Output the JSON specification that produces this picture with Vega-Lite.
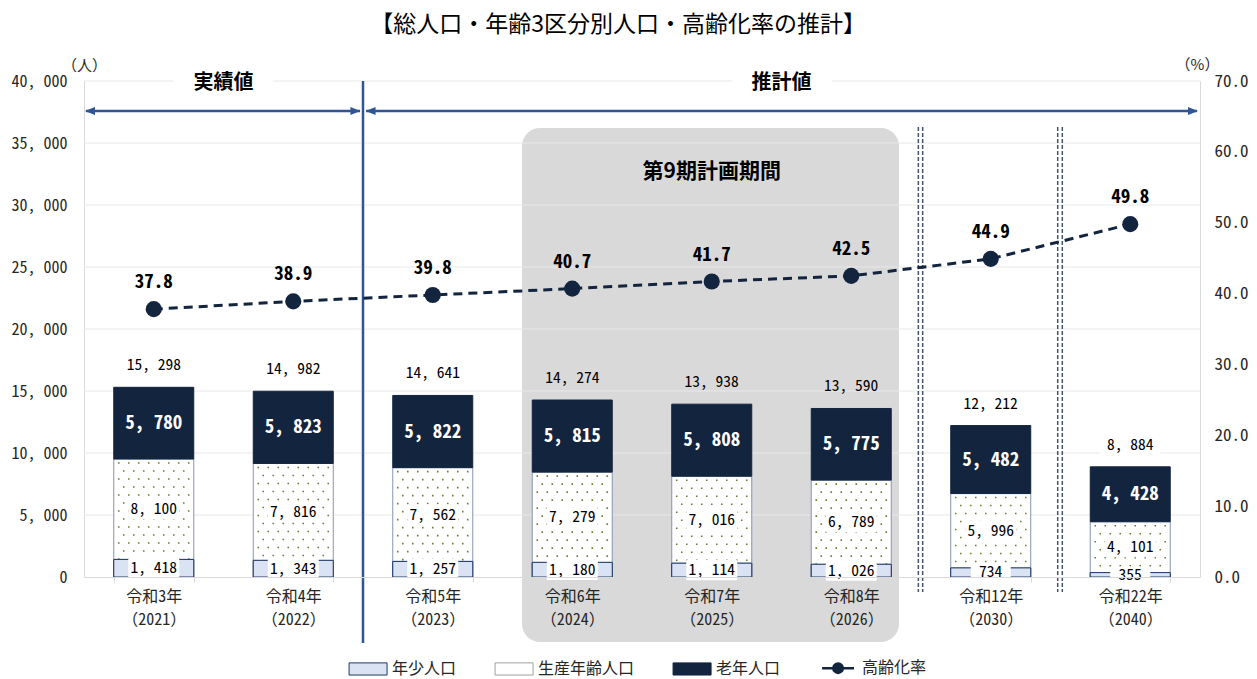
{
  "$schema": "https://vega.github.io/schema/vega-lite/v6.json",
  "width": 1116,
  "height": 496,
  "autosize": {"type": "none"},
  "padding": {"left": 84, "top": 81, "right": 57, "bottom": 102},
  "background": "white",
  "config": {"view": {"stroke": null}, "font": "Noto Sans CJK JP"},
  "title": {"text": "【総人口・年齢3区分別人口・高齢化率の推計】", "fontSize": 23, "fontWeight": "normal", "font": "Noto Sans CJK JP", "color": "#000000", "anchor": "middle", "frame": "group", "offset": 20, "dx": -24},
  "datasets": {
    "seg": [
      {"cat": "令和3年|（2021）", "grp": "年少人口", "value": 1418, "order": 1},
      {"cat": "令和3年|（2021）", "grp": "生産年齢人口", "value": 8100, "order": 2},
      {"cat": "令和3年|（2021）", "grp": "老年人口", "value": 5780, "order": 3},
      {"cat": "令和4年|（2022）", "grp": "年少人口", "value": 1343, "order": 1},
      {"cat": "令和4年|（2022）", "grp": "生産年齢人口", "value": 7816, "order": 2},
      {"cat": "令和4年|（2022）", "grp": "老年人口", "value": 5823, "order": 3},
      {"cat": "令和5年|（2023）", "grp": "年少人口", "value": 1257, "order": 1},
      {"cat": "令和5年|（2023）", "grp": "生産年齢人口", "value": 7562, "order": 2},
      {"cat": "令和5年|（2023）", "grp": "老年人口", "value": 5822, "order": 3},
      {"cat": "令和6年|（2024）", "grp": "年少人口", "value": 1180, "order": 1},
      {"cat": "令和6年|（2024）", "grp": "生産年齢人口", "value": 7279, "order": 2},
      {"cat": "令和6年|（2024）", "grp": "老年人口", "value": 5815, "order": 3},
      {"cat": "令和7年|（2025）", "grp": "年少人口", "value": 1114, "order": 1},
      {"cat": "令和7年|（2025）", "grp": "生産年齢人口", "value": 7016, "order": 2},
      {"cat": "令和7年|（2025）", "grp": "老年人口", "value": 5808, "order": 3},
      {"cat": "令和8年|（2026）", "grp": "年少人口", "value": 1026, "order": 1},
      {"cat": "令和8年|（2026）", "grp": "生産年齢人口", "value": 6789, "order": 2},
      {"cat": "令和8年|（2026）", "grp": "老年人口", "value": 5775, "order": 3},
      {"cat": "令和12年|（2030）", "grp": "年少人口", "value": 734, "order": 1},
      {"cat": "令和12年|（2030）", "grp": "生産年齢人口", "value": 5996, "order": 2},
      {"cat": "令和12年|（2030）", "grp": "老年人口", "value": 5482, "order": 3},
      {"cat": "令和22年|（2040）", "grp": "年少人口", "value": 355, "order": 1},
      {"cat": "令和22年|（2040）", "grp": "生産年齢人口", "value": 4101, "order": 2},
      {"cat": "令和22年|（2040）", "grp": "老年人口", "value": 4428, "order": 3}
    ],
    "tot": [
      {"cat": "令和3年|（2021）", "total": 15298, "rate": 37.8},
      {"cat": "令和4年|（2022）", "total": 14982, "rate": 38.9},
      {"cat": "令和5年|（2023）", "total": 14641, "rate": 39.8},
      {"cat": "令和6年|（2024）", "total": 14274, "rate": 40.7},
      {"cat": "令和7年|（2025）", "total": 13938, "rate": 41.7},
      {"cat": "令和8年|（2026）", "total": 13590, "rate": 42.5},
      {"cat": "令和12年|（2030）", "total": 12212, "rate": 44.9},
      {"cat": "令和22年|（2040）", "total": 8884, "rate": 49.8}
    ]
  },
  "layer": [
    {
      "data": {"values": [{}]},
      "mark": {"type": "rect", "fill": "#d9d9d9", "cornerRadius": 18},
      "encoding": {
        "x": {"datum": 3.14, "type": "quantitative", "scale": {"domain": [0, 8]}, "axis": null},
        "x2": {"datum": 5.842},
        "y": {"datum": 36210, "type": "quantitative", "scale": {"domain": [0, 40000]}, "axis": null},
        "y2": {"datum": -5242}
      }
    },
    {
      "data": {"values": [{"g": 5000}, {"g": 10000}, {"g": 15000}, {"g": 20000}, {"g": 25000}, {"g": 30000}, {"g": 35000}, {"g": 40000}]},
      "mark": {"type": "rule", "stroke": "#e8e8e8", "strokeWidth": 1},
      "encoding": {
        "y": {"field": "g", "type": "quantitative", "scale": {"domain": [0, 40000]}, "axis": null}
      }
    },
    {
      "data": {"values": [{}]},
      "mark": {"type": "point", "filled": true, "fill": "white", "opacity": 1, "strokeWidth": 0, "shape": "M-1,-0.24H1V0.24H-1Z", "size": 10000},
      "encoding": {
        "x": {"datum": 1.0, "type": "quantitative", "scale": {"domain": [0, 8]}, "axis": null},
        "y": {"datum": 39840, "type": "quantitative", "scale": {"domain": [0, 40000]}, "axis": null}
      }
    },
    {
      "data": {"values": [{}]},
      "mark": {"type": "point", "filled": true, "fill": "white", "opacity": 1, "strokeWidth": 0, "shape": "M-1,-0.24H1V0.24H-1Z", "size": 10000},
      "encoding": {
        "x": {"datum": 5.0, "type": "quantitative", "scale": {"domain": [0, 8]}, "axis": null},
        "y": {"datum": 39840, "type": "quantitative", "scale": {"domain": [0, 40000]}, "axis": null}
      }
    },
    {
      "data": {"name": "seg"},
      "transform": [{"stack": "value", "groupby": ["cat"], "sort": [{"field": "order", "order": "ascending"}], "as": ["v0", "v1"]}],
      "mark": {"type": "bar", "strokeWidth": 1},
      "encoding": {
        "x": {
          "field": "cat", "type": "nominal", "sort": null,
          "scale": {"type": "band", "domain": ["令和3年|（2021）", "令和4年|（2022）", "令和5年|（2023）", "令和6年|（2024）", "令和7年|（2025）", "令和8年|（2026）", "令和12年|（2030）", "令和22年|（2040）"], "paddingInner": 0.4265, "paddingOuter": 0.2133},
          "axis": {"orient": "bottom", "zindex": 1, "title": null, "labelExpr": "split(datum.label, '|')", "labelAngle": 0, "labelFont": "Noto Sans Mono CJK JP, Noto Sans CJK JP", "labelFontSize": 16, "labelLineHeight": 23, "labelPadding": 6, "labelBaseline": "top", "labelColor": "#262626", "ticks": true, "tickBand": "extent", "tickSize": 5, "tickColor": "#d9d9d9", "domainColor": "#d9d9d9", "grid": false}
        },
        "y": {
          "field": "v0", "type": "quantitative", "scale": {"domain": [0, 40000]},
          "axis": {"orient": "left", "values": [0, 5000, 10000, 15000, 20000, 25000, 30000, 35000, 40000], "labelExpr": "replace(format(datum.value, ','), ',', ', ')", "grid": false, "ticks": false, "tickSize": 0, "domain": true, "domainColor": "#d9d9d9", "labelFont": "Noto Sans Mono CJK JP, Noto Sans CJK JP", "labelFontSize": 16, "labelColor": "#262626", "labelPadding": 17, "title": "（人）", "titleAngle": 0, "titleX": 0, "titleY": -16, "titleAlign": "center", "titleBaseline": "middle", "titleFont": "Noto Sans CJK JP", "titleFontSize": 15, "titleFontWeight": "normal", "titleColor": "#262626"}
        },
        "y2": {"field": "v1"},
        "color": {
          "field": "grp", "type": "nominal",
          "scale": {"domain": ["年少人口", "生産年齢人口", "老年人口", "高齢化率"], "range": ["#dae3f3", "#ffffff", "#13243f", "#13243f"]},
          "legend": {
            "orient": "none", "legendX": 266, "legendY": 579, "direction": "horizontal", "title": null,
            "symbolSize": 1444, "labelFontSize": 16, "labelFont": "Noto Sans CJK JP", "labelColor": "#262626", "labelOffset": 26, "columnPadding": 36,
            "encode": {"symbols": {"update": {
              "shape": {"signal": "datum.value === '高齢化率' ? 'M-0.31,0H1.37M0.78,0A0.25,0.25 0 1,1 0.28,0A0.25,0.25 0 1,1 0.78,0Z' : 'M-0.47,-0.32H1.53V0.32H-0.47Z'"},
              "stroke": {"signal": "datum.value === '生産年齢人口' ? '#a0a0a0' : (datum.value === '年少人口' ? '#1f3864' : '#13243f')"},
              "strokeWidth": {"signal": "datum.value === '高齢化率' ? 2.5 : 1"}
            }}}
          }
        },
        "stroke": {
          "field": "grp", "type": "nominal",
          "scale": {"domain": ["年少人口", "生産年齢人口", "老年人口"], "range": ["#1f3864", "#8496b0", "#13243f"]},
          "legend": null
        }
      }
    },
    {
      "data": {"name": "seg"},
      "transform": [
        {"stack": "value", "groupby": ["cat"], "sort": [{"field": "order", "order": "ascending"}], "as": ["v0", "v1"]},
        {"filter": "datum.grp === '生産年齢人口'"}
      ],
      "mark": {
        "type": "point", "clip": true, "filled": true, "fill": "#6f7d3a", "opacity": 1, "strokeWidth": 0, "size": 4,
        "shape": "M-35.8,3.2h1.6v1.6h-1.6v-1.6m10,0h1.6v1.6h-1.6v-1.6m10,0h1.6v1.6h-1.6v-1.6m10,0h1.6v1.6h-1.6v-1.6m10,0h1.6v1.6h-1.6v-1.6m10,0h1.6v1.6h-1.6v-1.6m10,0h1.6v1.6h-1.6v-1.6m10,0h1.6v1.6h-1.6v-1.6m-65,8h1.6v1.6h-1.6v-1.6m10,0h1.6v1.6h-1.6v-1.6m10,0h1.6v1.6h-1.6v-1.6m10,0h1.6v1.6h-1.6v-1.6m10,0h1.6v1.6h-1.6v-1.6m10,0h1.6v1.6h-1.6v-1.6m10,0h1.6v1.6h-1.6v-1.6m-65,8h1.6v1.6h-1.6v-1.6m10,0h1.6v1.6h-1.6v-1.6m10,0h1.6v1.6h-1.6v-1.6m10,0h1.6v1.6h-1.6v-1.6m10,0h1.6v1.6h-1.6v-1.6m10,0h1.6v1.6h-1.6v-1.6m10,0h1.6v1.6h-1.6v-1.6m10,0h1.6v1.6h-1.6v-1.6m-65,8h1.6v1.6h-1.6v-1.6m10,0h1.6v1.6h-1.6v-1.6m10,0h1.6v1.6h-1.6v-1.6m10,0h1.6v1.6h-1.6v-1.6m10,0h1.6v1.6h-1.6v-1.6m10,0h1.6v1.6h-1.6v-1.6m10,0h1.6v1.6h-1.6v-1.6m-65,8h1.6v1.6h-1.6v-1.6m10,0h1.6v1.6h-1.6v-1.6m10,0h1.6v1.6h-1.6v-1.6m10,0h1.6v1.6h-1.6v-1.6m10,0h1.6v1.6h-1.6v-1.6m10,0h1.6v1.6h-1.6v-1.6m10,0h1.6v1.6h-1.6v-1.6m10,0h1.6v1.6h-1.6v-1.6m-65,8h1.6v1.6h-1.6v-1.6m10,0h1.6v1.6h-1.6v-1.6m10,0h1.6v1.6h-1.6v-1.6m10,0h1.6v1.6h-1.6v-1.6m10,0h1.6v1.6h-1.6v-1.6m10,0h1.6v1.6h-1.6v-1.6m10,0h1.6v1.6h-1.6v-1.6m-65,8h1.6v1.6h-1.6v-1.6m10,0h1.6v1.6h-1.6v-1.6m10,0h1.6v1.6h-1.6v-1.6m10,0h1.6v1.6h-1.6v-1.6m10,0h1.6v1.6h-1.6v-1.6m10,0h1.6v1.6h-1.6v-1.6m10,0h1.6v1.6h-1.6v-1.6m10,0h1.6v1.6h-1.6v-1.6m-65,8h1.6v1.6h-1.6v-1.6m10,0h1.6v1.6h-1.6v-1.6m10,0h1.6v1.6h-1.6v-1.6m10,0h1.6v1.6h-1.6v-1.6m10,0h1.6v1.6h-1.6v-1.6m10,0h1.6v1.6h-1.6v-1.6m10,0h1.6v1.6h-1.6v-1.6m-65,8h1.6v1.6h-1.6v-1.6m10,0h1.6v1.6h-1.6v-1.6m10,0h1.6v1.6h-1.6v-1.6m10,0h1.6v1.6h-1.6v-1.6m10,0h1.6v1.6h-1.6v-1.6m10,0h1.6v1.6h-1.6v-1.6m10,0h1.6v1.6h-1.6v-1.6m10,0h1.6v1.6h-1.6v-1.6m-65,8h1.6v1.6h-1.6v-1.6m10,0h1.6v1.6h-1.6v-1.6m10,0h1.6v1.6h-1.6v-1.6m10,0h1.6v1.6h-1.6v-1.6m10,0h1.6v1.6h-1.6v-1.6m10,0h1.6v1.6h-1.6v-1.6m10,0h1.6v1.6h-1.6v-1.6m-65,8h1.6v1.6h-1.6v-1.6m10,0h1.6v1.6h-1.6v-1.6m10,0h1.6v1.6h-1.6v-1.6m10,0h1.6v1.6h-1.6v-1.6m10,0h1.6v1.6h-1.6v-1.6m10,0h1.6v1.6h-1.6v-1.6m10,0h1.6v1.6h-1.6v-1.6m10,0h1.6v1.6h-1.6v-1.6m-65,8h1.6v1.6h-1.6v-1.6m10,0h1.6v1.6h-1.6v-1.6m10,0h1.6v1.6h-1.6v-1.6m10,0h1.6v1.6h-1.6v-1.6m10,0h1.6v1.6h-1.6v-1.6m10,0h1.6v1.6h-1.6v-1.6m10,0h1.6v1.6h-1.6v-1.6m-65,8h1.6v1.6h-1.6v-1.6m10,0h1.6v1.6h-1.6v-1.6m10,0h1.6v1.6h-1.6v-1.6m10,0h1.6v1.6h-1.6v-1.6m10,0h1.6v1.6h-1.6v-1.6m10,0h1.6v1.6h-1.6v-1.6m10,0h1.6v1.6h-1.6v-1.6m10,0h1.6v1.6h-1.6v-1.6m-65,8h1.6v1.6h-1.6v-1.6m10,0h1.6v1.6h-1.6v-1.6m10,0h1.6v1.6h-1.6v-1.6m10,0h1.6v1.6h-1.6v-1.6m10,0h1.6v1.6h-1.6v-1.6m10,0h1.6v1.6h-1.6v-1.6m10,0h1.6v1.6h-1.6v-1.6m-65,8h1.6v1.6h-1.6v-1.6m10,0h1.6v1.6h-1.6v-1.6m10,0h1.6v1.6h-1.6v-1.6m10,0h1.6v1.6h-1.6v-1.6m10,0h1.6v1.6h-1.6v-1.6m10,0h1.6v1.6h-1.6v-1.6m10,0h1.6v1.6h-1.6v-1.6m10,0h1.6v1.6h-1.6v-1.6m-65,8h1.6v1.6h-1.6v-1.6m10,0h1.6v1.6h-1.6v-1.6m10,0h1.6v1.6h-1.6v-1.6m10,0h1.6v1.6h-1.6v-1.6m10,0h1.6v1.6h-1.6v-1.6m10,0h1.6v1.6h-1.6v-1.6m10,0h1.6v1.6h-1.6v-1.6"
      },
      "encoding": {
        "x": {"field": "cat", "type": "nominal", "sort": null, "bandPosition": 0.5, "scale": {"type": "band", "domain": ["令和3年|（2021）", "令和4年|（2022）", "令和5年|（2023）", "令和6年|（2024）", "令和7年|（2025）", "令和8年|（2026）", "令和12年|（2030）", "令和22年|（2040）"], "paddingInner": 0.4265, "paddingOuter": 0.2133}, "axis": null},
        "y": {"field": "v1", "type": "quantitative", "scale": {"domain": [0, 40000]}, "axis": null}
      }
    },
    {
      "data": {"name": "seg"},
      "transform": [{"filter": "datum.grp === '年少人口'"}],
      "mark": {"type": "bar", "fill": "#dae3f3", "stroke": "#1f3864", "strokeWidth": 1},
      "encoding": {
        "x": {"field": "cat", "type": "nominal", "sort": null, "scale": {"type": "band", "domain": ["令和3年|（2021）", "令和4年|（2022）", "令和5年|（2023）", "令和6年|（2024）", "令和7年|（2025）", "令和8年|（2026）", "令和12年|（2030）", "令和22年|（2040）"], "paddingInner": 0.4265, "paddingOuter": 0.2133}, "axis": null},
        "y": {"field": "value", "type": "quantitative", "scale": {"domain": [0, 40000]}, "axis": null}
      }
    },
    {
      "data": {"values": [{}]},
      "mark": {"type": "rule", "stroke": "#2f5597", "strokeWidth": 2.5},
      "encoding": {
        "x": {"datum": 2.0, "type": "quantitative", "scale": {"domain": [0, 8]}, "axis": null},
        "y": {"datum": 40000, "type": "quantitative", "scale": {"domain": [0, 40000]}, "axis": null},
        "y2": {"datum": -5323}
      }
    },
    {
      "data": {"values": [{}]},
      "mark": {"type": "rule", "stroke": "#2f5597", "strokeWidth": 2.5},
      "encoding": {
        "x": {"datum": 0.014, "type": "quantitative", "scale": {"domain": [0, 8]}, "axis": null},
        "x2": {"datum": 1.979},
        "y": {"datum": 37581, "type": "quantitative", "scale": {"domain": [0, 40000]}, "axis": null}
      }
    },
    {
      "data": {"values": [{}]},
      "mark": {"type": "rule", "stroke": "#2f5597", "strokeWidth": 2.5},
      "encoding": {
        "x": {"datum": 2.022, "type": "quantitative", "scale": {"domain": [0, 8]}, "axis": null},
        "x2": {"datum": 7.978},
        "y": {"datum": 37581, "type": "quantitative", "scale": {"domain": [0, 40000]}, "axis": null}
      }
    },
    {
      "data": {"values": [{}]},
      "mark": {"type": "point", "filled": true, "fill": "#2f5597", "opacity": 1, "strokeWidth": 0, "shape": "M1,-0.8L-1,0L1,0.8Z", "size": 100},
      "encoding": {
        "x": {"datum": 0.043, "type": "quantitative", "scale": {"domain": [0, 8]}, "axis": null},
        "y": {"datum": 37581, "type": "quantitative", "scale": {"domain": [0, 40000]}, "axis": null}
      }
    },
    {
      "data": {"values": [{}]},
      "mark": {"type": "point", "filled": true, "fill": "#2f5597", "opacity": 1, "strokeWidth": 0, "shape": "M-1,-0.8L1,0L-1,0.8Z", "size": 100},
      "encoding": {
        "x": {"datum": 1.946, "type": "quantitative", "scale": {"domain": [0, 8]}, "axis": null},
        "y": {"datum": 37581, "type": "quantitative", "scale": {"domain": [0, 40000]}, "axis": null}
      }
    },
    {
      "data": {"values": [{}]},
      "mark": {"type": "point", "filled": true, "fill": "#2f5597", "opacity": 1, "strokeWidth": 0, "shape": "M1,-0.8L-1,0L1,0.8Z", "size": 100},
      "encoding": {
        "x": {"datum": 2.054, "type": "quantitative", "scale": {"domain": [0, 8]}, "axis": null},
        "y": {"datum": 37581, "type": "quantitative", "scale": {"domain": [0, 40000]}, "axis": null}
      }
    },
    {
      "data": {"values": [{}]},
      "mark": {"type": "point", "filled": true, "fill": "#2f5597", "opacity": 1, "strokeWidth": 0, "shape": "M-1,-0.8L1,0L-1,0.8Z", "size": 100},
      "encoding": {
        "x": {"datum": 7.95, "type": "quantitative", "scale": {"domain": [0, 8]}, "axis": null},
        "y": {"datum": 37581, "type": "quantitative", "scale": {"domain": [0, 40000]}, "axis": null}
      }
    },
    {
      "data": {"values": [{}]},
      "mark": {"type": "rule", "stroke": "#44546a", "strokeWidth": 1.5, "strokeDash": [4, 2]},
      "encoding": {
        "x": {"datum": 5.981, "type": "quantitative", "scale": {"domain": [0, 8]}, "axis": null},
        "y": {"datum": 36290, "type": "quantitative", "scale": {"domain": [0, 40000]}, "axis": null},
        "y2": {"datum": -1210}
      }
    },
    {
      "data": {"values": [{}]},
      "mark": {"type": "rule", "stroke": "#44546a", "strokeWidth": 1.5, "strokeDash": [4, 2]},
      "encoding": {
        "x": {"datum": 6.012, "type": "quantitative", "scale": {"domain": [0, 8]}, "axis": null},
        "y": {"datum": 36290, "type": "quantitative", "scale": {"domain": [0, 40000]}, "axis": null},
        "y2": {"datum": -1210}
      }
    },
    {
      "data": {"values": [{}]},
      "mark": {"type": "rule", "stroke": "#44546a", "strokeWidth": 1.5, "strokeDash": [4, 2]},
      "encoding": {
        "x": {"datum": 6.98, "type": "quantitative", "scale": {"domain": [0, 8]}, "axis": null},
        "y": {"datum": 36290, "type": "quantitative", "scale": {"domain": [0, 40000]}, "axis": null},
        "y2": {"datum": -1210}
      }
    },
    {
      "data": {"values": [{}]},
      "mark": {"type": "rule", "stroke": "#44546a", "strokeWidth": 1.5, "strokeDash": [4, 2]},
      "encoding": {
        "x": {"datum": 7.013, "type": "quantitative", "scale": {"domain": [0, 8]}, "axis": null},
        "y": {"datum": 36290, "type": "quantitative", "scale": {"domain": [0, 40000]}, "axis": null},
        "y2": {"datum": -1210}
      }
    },
    {
      "data": {"values": [{}]},
      "mark": {"type": "text", "text": "実績値", "font": "Noto Sans CJK JP", "fontSize": 20, "fontWeight": "bold", "color": "#000000", "align": "center", "baseline": "middle"},
      "encoding": {
        "x": {"datum": 1.0, "type": "quantitative", "scale": {"domain": [0, 8]}, "axis": null},
        "y": {"datum": 39840, "type": "quantitative", "scale": {"domain": [0, 40000]}, "axis": null}
      }
    },
    {
      "data": {"values": [{}]},
      "mark": {"type": "text", "text": "推計値", "font": "Noto Sans CJK JP", "fontSize": 20, "fontWeight": "bold", "color": "#000000", "align": "center", "baseline": "middle"},
      "encoding": {
        "x": {"datum": 5.0, "type": "quantitative", "scale": {"domain": [0, 8]}, "axis": null},
        "y": {"datum": 39840, "type": "quantitative", "scale": {"domain": [0, 40000]}, "axis": null}
      }
    },
    {
      "data": {"values": [{}]},
      "mark": {"type": "text", "text": "第9期計画期間", "font": "Noto Sans CJK JP", "fontSize": 21, "fontWeight": "bold", "color": "#000000", "align": "center", "baseline": "middle"},
      "encoding": {
        "x": {"datum": 4.5, "type": "quantitative", "scale": {"domain": [0, 8]}, "axis": null},
        "y": {"datum": 32660, "type": "quantitative", "scale": {"domain": [0, 40000]}, "axis": null}
      }
    },
    {
      "data": {"name": "seg"},
      "transform": [
        {"stack": "value", "groupby": ["cat"], "sort": [{"field": "order", "order": "ascending"}], "as": ["v0", "v1"]},
        {"calculate": "(datum.v0 + datum.v1) / 2", "as": "mid"},
        {"filter": "datum.grp !== '老年人口'"}
      ],
      "mark": {"type": "point", "filled": true, "fill": "white", "opacity": 1, "strokeWidth": 0, "shape": "M-1,-0.4H1V0.4H-1Z"},
      "encoding": {
        "x": {"field": "cat", "type": "nominal", "sort": null, "bandPosition": 0.5, "scale": {"type": "band", "domain": ["令和3年|（2021）", "令和4年|（2022）", "令和5年|（2023）", "令和6年|（2024）", "令和7年|（2025）", "令和8年|（2026）", "令和12年|（2030）", "令和22年|（2040）"], "paddingInner": 0.4265, "paddingOuter": 0.2133}, "axis": null},
        "y": {"field": "mid", "type": "quantitative", "scale": {"domain": [0, 40000]}, "axis": null},
        "size": {"field": "value", "type": "quantitative", "scale": {"type": "threshold", "domain": [1000], "range": [1600, 2600]}, "legend": null}
      }
    },
    {
      "data": {"name": "seg"},
      "transform": [
        {"stack": "value", "groupby": ["cat"], "sort": [{"field": "order", "order": "ascending"}], "as": ["v0", "v1"]},
        {"calculate": "(datum.v0 + datum.v1) / 2", "as": "mid"},
        {"calculate": "replace(format(datum.value, ','), ',', ', ')", "as": "lbl"},
        {"filter": "datum.grp !== '老年人口'"}
      ],
      "mark": {"type": "text", "font": "Noto Sans Mono CJK JP, Noto Sans CJK JP", "fontSize": 15.5, "color": "#000000", "align": "center", "baseline": "middle"},
      "encoding": {
        "x": {"field": "cat", "type": "nominal", "sort": null, "bandPosition": 0.5, "scale": {"type": "band", "domain": ["令和3年|（2021）", "令和4年|（2022）", "令和5年|（2023）", "令和6年|（2024）", "令和7年|（2025）", "令和8年|（2026）", "令和12年|（2030）", "令和22年|（2040）"], "paddingInner": 0.4265, "paddingOuter": 0.2133}, "axis": null},
        "y": {"field": "mid", "type": "quantitative", "scale": {"domain": [0, 40000]}, "axis": null},
        "text": {"field": "lbl", "type": "nominal"}
      }
    },
    {
      "data": {"name": "seg"},
      "transform": [
        {"stack": "value", "groupby": ["cat"], "sort": [{"field": "order", "order": "ascending"}], "as": ["v0", "v1"]},
        {"calculate": "(datum.v0 + datum.v1) / 2", "as": "mid"},
        {"calculate": "replace(format(datum.value, ','), ',', ', ')", "as": "lbl"},
        {"filter": "datum.grp === '老年人口'"}
      ],
      "mark": {"type": "text", "font": "Noto Sans Mono CJK JP, Noto Sans CJK JP", "fontSize": 19, "fontWeight": "bold", "color": "#ffffff", "align": "center", "baseline": "middle"},
      "encoding": {
        "x": {"field": "cat", "type": "nominal", "sort": null, "bandPosition": 0.5, "scale": {"type": "band", "domain": ["令和3年|（2021）", "令和4年|（2022）", "令和5年|（2023）", "令和6年|（2024）", "令和7年|（2025）", "令和8年|（2026）", "令和12年|（2030）", "令和22年|（2040）"], "paddingInner": 0.4265, "paddingOuter": 0.2133}, "axis": null},
        "y": {"field": "mid", "type": "quantitative", "scale": {"domain": [0, 40000]}, "axis": null},
        "text": {"field": "lbl", "type": "nominal"}
      }
    },
    {
      "data": {"name": "tot"},
      "transform": [{"filter": "indexof(['令和6年|（2024）', '令和7年|（2025）', '令和8年|（2026）'], datum.cat) < 0"}],
      "mark": {"type": "point", "filled": true, "fill": "white", "opacity": 1, "strokeWidth": 0, "shape": "M-1,-0.37H1V0.37H-1Z", "size": 3600, "yOffset": -22},
      "encoding": {
        "x": {"field": "cat", "type": "nominal", "sort": null, "bandPosition": 0.5, "scale": {"type": "band", "domain": ["令和3年|（2021）", "令和4年|（2022）", "令和5年|（2023）", "令和6年|（2024）", "令和7年|（2025）", "令和8年|（2026）", "令和12年|（2030）", "令和22年|（2040）"], "paddingInner": 0.4265, "paddingOuter": 0.2133}, "axis": null},
        "y": {"field": "total", "type": "quantitative", "scale": {"domain": [0, 40000]}, "axis": null}
      }
    },
    {
      "data": {"name": "tot"},
      "transform": [{"calculate": "replace(format(datum.total, ','), ',', ', ')", "as": "lbl"}],
      "mark": {"type": "text", "font": "Noto Sans Mono CJK JP, Noto Sans CJK JP", "fontSize": 15.5, "color": "#000000", "align": "center", "baseline": "middle", "yOffset": -22},
      "encoding": {
        "x": {"field": "cat", "type": "nominal", "sort": null, "bandPosition": 0.5, "scale": {"type": "band", "domain": ["令和3年|（2021）", "令和4年|（2022）", "令和5年|（2023）", "令和6年|（2024）", "令和7年|（2025）", "令和8年|（2026）", "令和12年|（2030）", "令和22年|（2040）"], "paddingInner": 0.4265, "paddingOuter": 0.2133}, "axis": null},
        "y": {"field": "total", "type": "quantitative", "scale": {"domain": [0, 40000]}, "axis": null},
        "text": {"field": "lbl", "type": "nominal"}
      }
    },
    {
      "data": {"name": "tot"},
      "mark": {"type": "line", "stroke": "#13243f", "strokeWidth": 3, "strokeDash": [9, 6]},
      "encoding": {
        "x": {"field": "cat", "type": "nominal", "sort": null, "bandPosition": 0.5, "scale": {"type": "band", "domain": ["令和3年|（2021）", "令和4年|（2022）", "令和5年|（2023）", "令和6年|（2024）", "令和7年|（2025）", "令和8年|（2026）", "令和12年|（2030）", "令和22年|（2040）"], "paddingInner": 0.4265, "paddingOuter": 0.2133}, "axis": null},
        "y": {
          "field": "rate", "type": "quantitative", "scale": {"domain": [0, 70]},
          "axis": {"orient": "right", "values": [0, 10, 20, 30, 40, 50, 60, 70], "format": ".1f", "grid": false, "ticks": false, "tickSize": 0, "domain": true, "domainColor": "#d9d9d9", "labelFont": "Noto Sans Mono CJK JP, Noto Sans CJK JP", "labelFontSize": 17, "labelColor": "#262626", "labelPadding": 14, "title": "（%）", "titleAngle": 0, "titleX": -3, "titleY": -17, "titleAlign": "center", "titleBaseline": "middle", "titleFont": "Noto Sans CJK JP", "titleFontSize": 15, "titleFontWeight": "normal", "titleColor": "#262626"}
        },
        "order": {"value": null}
      }
    },
    {
      "data": {"name": "tot"},
      "mark": {"type": "point", "filled": true, "fill": "#13243f", "opacity": 1, "size": 260, "shape": "circle"},
      "encoding": {
        "x": {"field": "cat", "type": "nominal", "sort": null, "bandPosition": 0.5, "scale": {"type": "band", "domain": ["令和3年|（2021）", "令和4年|（2022）", "令和5年|（2023）", "令和6年|（2024）", "令和7年|（2025）", "令和8年|（2026）", "令和12年|（2030）", "令和22年|（2040）"], "paddingInner": 0.4265, "paddingOuter": 0.2133}, "axis": null},
        "y": {"field": "rate", "type": "quantitative", "scale": {"domain": [0, 70]}, "axis": null}
      }
    },
    {
      "data": {"name": "tot"},
      "mark": {"type": "text", "font": "Noto Sans Mono CJK JP, Noto Sans CJK JP", "fontSize": 19, "fontWeight": "bold", "color": "#000000", "align": "center", "baseline": "middle", "yOffset": -27},
      "encoding": {
        "x": {"field": "cat", "type": "nominal", "sort": null, "bandPosition": 0.5, "scale": {"type": "band", "domain": ["令和3年|（2021）", "令和4年|（2022）", "令和5年|（2023）", "令和6年|（2024）", "令和7年|（2025）", "令和8年|（2026）", "令和12年|（2030）", "令和22年|（2040）"], "paddingInner": 0.4265, "paddingOuter": 0.2133}, "axis": null},
        "y": {"field": "rate", "type": "quantitative", "scale": {"domain": [0, 70]}, "axis": null},
        "text": {"field": "rate", "type": "quantitative", "format": ".1f"}
      }
    }
  ],
  "resolve": {"scale": {"x": "independent", "y": "independent"}}
}
